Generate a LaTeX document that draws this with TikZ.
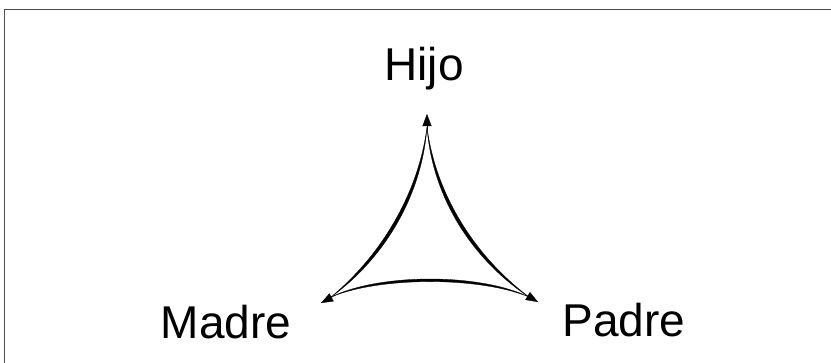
\documentclass[tikz,border=0pt]{standalone}
\usepackage{fontspec}
\setmainfont{Liberation Sans}
\usetikzlibrary{arrows.meta}
\begin{document}
\begin{tikzpicture}[x=1pt,y=-1pt,
  lbl/.style={font=\fontsize{46}{50}\selectfont, anchor=base, inner sep=0pt},
  stroke/.style={fill=black, draw=black, line width=0.3pt},
  head/.style={line width=0.3pt, -{Triangle[length=12pt,width=9pt]}}]
\useasboundingbox (0,0) rectangle (831,362);
\clip (0,0) rectangle (831,362);
\draw[line width=1pt, draw=black!70] (4.5,9.5) rectangle (860,400);
% labels
\node[lbl] (hijo) at (424,80) {Hijo};
\node[lbl] (madre) at (226,338) {Madre};
\node[lbl] (padre) at (624,336) {Padre};
% vertices
\coordinate (T) at (427,114);
\coordinate (L) at (321,303);
\coordinate (R) at (538,302);
\coordinate (t) at (427,127);
\coordinate (l) at (331,297);
\coordinate (r) at (529,297);
% tapered curves
\path[stroke] (t) .. controls (422,195) and (385,258) .. (l)
              .. controls (381.5,255) and (418.5,193) .. (t);
\path[stroke] (t) .. controls (432,195) and (470,258) .. (r)
              .. controls (473.5,255) and (435.5,193) .. (t);
\path[stroke] (l) .. controls (380,273) and (480,273) .. (r)
              .. controls (480,276.5) and (380,276.5) .. (l);
% arrowheads
\draw[head] (427,130) -- (T);
\draw[head] (336,295) -- (L);
\draw[head] (526,295) -- (R);
\end{tikzpicture}
\end{document}
